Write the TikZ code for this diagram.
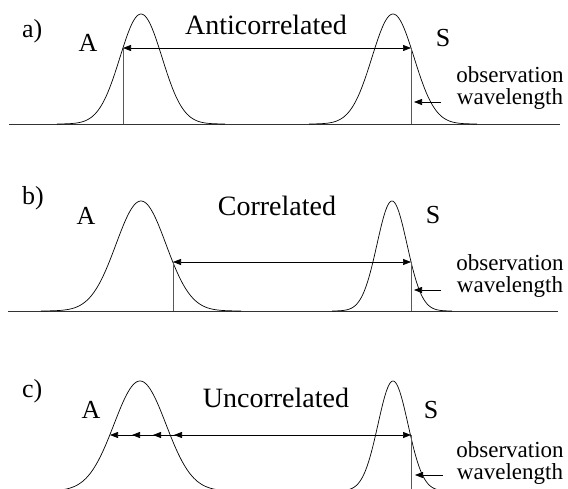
\documentclass[tikz,border=0pt]{standalone}
\usepackage{fontspec}
\setmainfont{Liberation Serif}
\usetikzlibrary{arrows.meta}
\begin{document}
\begin{tikzpicture}[x=1pt,y=-1pt,
  curve/.style={line width=0.7pt},
  axisline/.style={line width=0.8pt, black!80},
  obsline/.style={line width=0.6pt, black!65},
  dimarrow/.style={line width=0.7pt, {Triangle[length=8pt,width=6pt]}-{Triangle[length=8pt,width=6pt]}},
  ptr/.style={line width=0.7pt, -{Triangle[length=8pt,width=6pt]}},
  title/.style={font=\fontsize{28}{30}\selectfont, anchor=base, inner sep=0pt},
  lbl/.style={font=\fontsize{26}{28}\selectfont, anchor=base, inner sep=0pt},
  tag/.style={font=\fontsize{26}{28}\selectfont, anchor=base west, inner sep=0pt},
  obs/.style={font=\fontsize{23}{21.5}\selectfont, align=center, anchor=center, inner sep=0pt}
]
\useasboundingbox (0,0) rectangle (568,489);

% ---------------- panel a ----------------
\draw[axisline] (9,124) -- (560,124);
\draw[curve] plot[domain=-4:4, samples=121, smooth] ({141+21*\x}, {124-110*exp(-0.5*\x*\x)});
\draw[curve] plot[domain=-4:4, samples=121, smooth] ({393+21*\x}, {124-110*exp(-0.5*\x*\x)});
\coordinate (aL) at (123,48);
\coordinate (aLb) at (123,124);
\coordinate (aR) at (411,48);
\coordinate (aRb) at (411,124);
\draw[obsline] (aL) -- (aLb);
\draw[obsline] (aR) -- (aRb);
\draw[dimarrow] (aL) -- (aR);
\node[tag] (ta) at (22,38) {a)};
\node[lbl] (Aa) at (88,52) {A};
\node[lbl] (Sa) at (443,47) {S};
\node[title] (titlea) at (266,35) {Anticorrelated};
\node[obs] (oa) at (510,88) {observation\\wavelength};
\coordinate (pa1) at (441,102);
\coordinate (pa2) at (414,102);
\draw[ptr] (pa1) -- (pa2);

% ---------------- panel b ----------------
\draw[axisline] (8,311) -- (558,311);
\draw[curve] plot[domain=-4:4, samples=121, smooth] ({141+25*\x}, {311-110*exp(-0.5*\x*\x)});
\draw[curve] plot[domain=-4:4, samples=121, smooth] ({392+15*\x}, {311-110*exp(-0.5*\x*\x)});
\coordinate (bL) at (173,262);
\coordinate (bLb) at (173,311);
\coordinate (bR) at (411,262);
\coordinate (bRb) at (411,311);
\draw[obsline] (bL) -- (bLb);
\draw[obsline] (bR) -- (bRb);
\draw[dimarrow] (bL) -- (bR);
\node[tag] (tb) at (22,205) {b)};
\node[lbl] (Ab) at (86,225) {A};
\node[lbl] (Sb) at (433,224) {S};
\node[title] (titleb) at (277,216) {Correlated};
\node[obs] (ob) at (510,276) {observation\\wavelength};
\coordinate (pb1) at (441,290);
\coordinate (pb2) at (414,290);
\draw[ptr] (pb1) -- (pb2);

% ---------------- panel c ----------------
\begin{scope}
\clip (0,0) rectangle (568,489);
\draw[curve] plot[domain=-4:4, samples=121, smooth] ({140+26*\x}, {491-110*exp(-0.5*\x*\x)});
\draw[curve] plot[domain=-4:4, samples=121, smooth] ({393+15*\x}, {491-110*exp(-0.5*\x*\x)});
\end{scope}
\coordinate (cL) at (110,435);
\coordinate (cR) at (411,435);
\coordinate (cRb) at (411,489);
\draw[obsline] (cR) -- (cRb);
\draw[dimarrow] (cL) -- (cR);
\coordinate (c2) at (132,435);
\coordinate (c2s) at (146,435);
\coordinate (c3) at (153,435);
\coordinate (c3s) at (167,435);
\coordinate (c4) at (174,435);
\coordinate (c4s) at (188,435);
\draw[ptr] (c2s) -- (c2);
\draw[ptr] (c3s) -- (c3);
\draw[ptr] (c4s) -- (c4);
\node[tag] (tc) at (22,397) {c)};
\node[lbl] (Ac) at (91,418) {A};
\node[lbl] (Sc) at (431,418) {S};
\node[title] (titlec) at (276,407) {Uncorrelated};
\node[obs] (oc) at (510,463) {observation\\wavelength};
\coordinate (pc1) at (443,475);
\coordinate (pc2) at (415,475);
\draw[ptr] (pc1) -- (pc2);
\end{tikzpicture}
\end{document}
